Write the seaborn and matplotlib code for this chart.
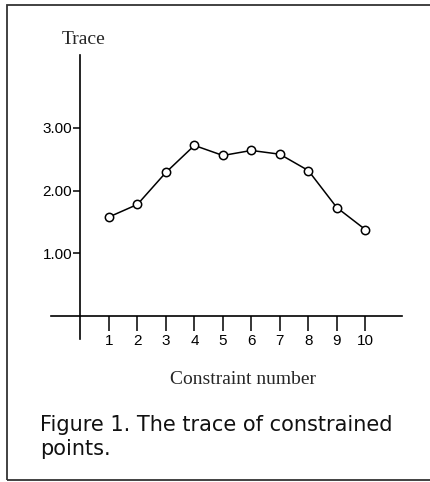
import numpy as np
import pandas as pd
import seaborn as sns
from matplotlib import pyplot as plt
from matplotlib.patches import Rectangle

# values
constraint = [1, 2, 3, 4, 5, 6, 7, 8, 9, 10]
trace = [1.58, 1.78, 2.29, 2.72, 2.56, 2.64, 2.58, 2.32, 1.73, 1.38]
ytick_vals = [1, 2, 3]
ytick_labels = ['1.00', '2.00', '3.00']

if __name__ == '__main__':
    sns.set_style('white')
    plt.rcParams['font.family'] = ['Liberation Sans', 'DejaVu Sans']

    df = pd.DataFrame({'constraint': constraint, 'trace': trace})

    fig = plt.figure(figsize=(4.30, 4.82), dpi=100)
    ax = fig.add_axes([46.3 / 430, 0.279, (408 - 46.3) / 430, 0.625])

    sns.lineplot(data=df, x='constraint', y='trace', ax=ax, color='black',
                 linewidth=1.1, marker='o', markersize=6,
                 markerfacecolor='white', markeredgecolor='black',
                 markeredgewidth=1.1)

    ax.set_xlim(-1.2, 11.5)
    ax.set_ylim(-0.5, 4.3)

    # axes crossing at the origin
    for s in ['top', 'right']:
        ax.spines[s].set_visible(False)
    ax.spines['left'].set_position(('data', 0))
    ax.spines['bottom'].set_position(('data', 0))
    ax.spines['left'].set_bounds(-0.37, 4.16)
    ax.spines['bottom'].set_bounds(-1.03, 11.3)
    for s in ['left', 'bottom']:
        ax.spines[s].set_color('black')
        ax.spines[s].set_linewidth(1.2)

    ax.set_xticks(constraint)
    ax.set_xticklabels([str(c) for c in constraint], fontsize=11)
    ax.set_yticks(ytick_vals)
    ax.set_yticklabels(ytick_labels, fontsize=11)
    ax.tick_params(axis='x', direction='out', length=11, width=1.1, pad=2,
                   bottom=True, colors='black')
    ax.tick_params(axis='y', direction='out', length=5, width=1.1, pad=1,
                   left=True, colors='black')
    ax.set_xlabel('')
    ax.set_ylabel('')

    fig.text(84 / 430, 1 - 40 / 482, 'Trace', family='Liberation Serif',
             fontsize=14, ha='center', va='center')
    fig.text(243 / 430, 1 - 380 / 482, 'Constraint number',
             family='Liberation Serif', fontsize=14, ha='center', va='center')
    fig.text(40 / 430, 1 - 437 / 482, 'Figure 1. The trace of constrained\npoints.',
             family='DejaVu Sans', fontsize=15, ha='left', va='center',
             linespacing=1.25, color='#111111')

    # frame around the figure (right edge falls outside the picture)
    fig.patches.append(Rectangle((7 / 430, 2 / 482), 1.1, 475 / 482,
                                 transform=fig.transFigure, fill=False,
                                 edgecolor='#333333', linewidth=1.3))

    fig.savefig('out.png', dpi=100)
